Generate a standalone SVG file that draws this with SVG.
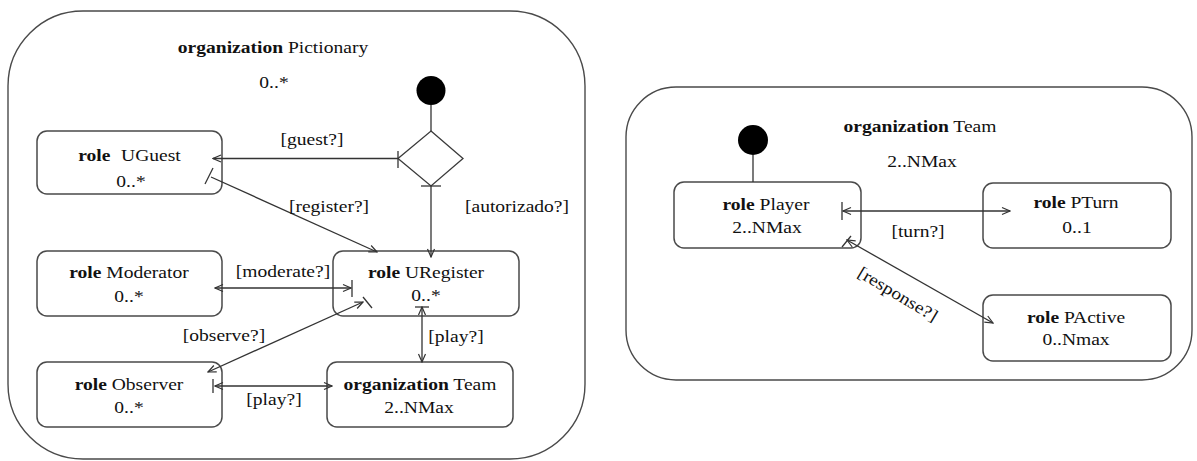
<svg xmlns="http://www.w3.org/2000/svg" width="1197" height="461" viewBox="0 0 1197 461">
<style>
.bg{fill:#ffffff}
.cont{fill:#ffffff;stroke:#4a4a4a;stroke-width:1.4}
.box{fill:#ffffff;stroke:#4a4a4a;stroke-width:1.5}
.init{fill:#000000}
.dia{fill:#ffffff;stroke:#3a3a3a;stroke-width:1.3}
.ln{fill:none;stroke:#333333;stroke-width:1.3}
.tk{fill:none;stroke:#333333;stroke-width:1.3}
.t{font-family:"Liberation Serif","Times New Roman",serif;font-size:17px;fill:#111111;text-anchor:middle}
.b{font-weight:bold}
</style>
<defs>
<marker id="ah" viewBox="0 0 10 10" refX="9" refY="5" markerWidth="10" markerHeight="10" markerUnits="userSpaceOnUse" orient="auto-start-reverse">
<path d="M1,1.5 L9,5 L1,8.5" fill="none" stroke="#333333" stroke-width="1.2"/>
</marker>
</defs>
<rect class="bg" x="0" y="0" width="1197" height="461"/>

<g id="org-pictionary">
<rect class="cont" x="8" y="11" width="577" height="448" rx="75" ry="75"/>
<text class="t" transform="translate(273,53) scale(1.15,1)"><tspan class="b">organization</tspan> Pictionary</text>
<text class="t" transform="translate(274,88) scale(1.15,1)">0..*</text>
</g>

<g id="org-team-detail">
<rect class="cont" x="626" y="87" width="566" height="293" rx="50" ry="50"/>
<text class="t" transform="translate(920,132) scale(1.15,1)"><tspan class="b">organization</tspan> Team</text>
<text class="t" transform="translate(922,167) scale(1.15,1)">2..NMax</text>
</g>

<g id="init-pictionary"><circle class="init" cx="431" cy="90.5" r="14.5"/></g>
<g id="decision"><polygon class="dia" points="431,131 463,158.5 431,186 398,158.5"/></g>

<g id="role-uguest">
<rect class="box" x="37" y="131" width="185" height="63" rx="10" ry="10"/>
<text class="t" transform="translate(129.5,161) scale(1.15,1)"><tspan class="b">role</tspan><tspan dx="5"> UGuest</tspan></text>
<text class="t" transform="translate(131,187) scale(1.15,1)">0..*</text>
</g>

<g id="role-moderator">
<rect class="box" x="37" y="251" width="185" height="65" rx="10" ry="10"/>
<text class="t" transform="translate(129,278) scale(1.15,1)"><tspan class="b">role</tspan> Moderator</text>
<text class="t" transform="translate(129,302) scale(1.15,1)">0..*</text>
</g>

<g id="role-uregister">
<rect class="box" x="333" y="251" width="186" height="65" rx="10" ry="10"/>
<text class="t" transform="translate(426,278) scale(1.15,1)"><tspan class="b">role</tspan> URegister</text>
<text class="t" transform="translate(426,301) scale(1.15,1)">0..*</text>
</g>

<g id="role-observer">
<rect class="box" x="37" y="362" width="185" height="65" rx="10" ry="10"/>
<text class="t" transform="translate(129,390) scale(1.15,1)"><tspan class="b">role</tspan> Observer</text>
<text class="t" transform="translate(129,413) scale(1.15,1)">0..*</text>
</g>

<g id="org-team">
<rect class="box" x="327" y="362" width="186" height="65" rx="10" ry="10"/>
<text class="t" transform="translate(420,390) scale(1.15,1)"><tspan class="b">organization</tspan> Team</text>
<text class="t" transform="translate(419,413) scale(1.15,1)">2..NMax</text>
</g>

<g id="init-team"><circle class="init" cx="753" cy="140" r="15"/></g>

<g id="role-player">
<rect class="box" x="674" y="182" width="187" height="66" rx="10" ry="10"/>
<text class="t" transform="translate(766,210) scale(1.15,1)"><tspan class="b">role</tspan> Player</text>
<text class="t" transform="translate(767,233) scale(1.15,1)">2..NMax</text>
</g>

<g id="role-pturn">
<rect class="box" x="983" y="183" width="188" height="65" rx="10" ry="10"/>
<text class="t" transform="translate(1076,208) scale(1.15,1)"><tspan class="b">role</tspan> PTurn</text>
<text class="t" transform="translate(1077,233) scale(1.15,1)">0..1</text>
</g>

<g id="role-pactive">
<rect class="box" x="983" y="295" width="188" height="66" rx="10" ry="10"/>
<text class="t" transform="translate(1076,323) scale(1.15,1)"><tspan class="b">role</tspan> PActive</text>
<text class="t" transform="translate(1076,345) scale(1.15,1)">0..Nmax</text>
</g>

<g id="connectors">
<line class="ln" x1="431" y1="105" x2="431" y2="131"/>
<line class="ln" x1="398" y1="158.5" x2="213" y2="158.5" marker-end="url(#ah)"/>
<line class="tk" x1="398" y1="151" x2="398" y2="168"/>
<text class="t" transform="translate(312,145) scale(1.15,1)">[guest?]</text>

<line class="ln" x1="431" y1="186" x2="431" y2="257" marker-end="url(#ah)"/>
<line class="tk" x1="421" y1="186" x2="441" y2="186"/>
<text class="t" transform="translate(517,212) scale(1.15,1)">[autorizado?]</text>

<line class="ln" x1="211" y1="177" x2="377" y2="252" marker-end="url(#ah)"/>
<line class="tk" x1="205" y1="184" x2="213" y2="168"/>
<text class="t" transform="translate(329,212) scale(1.15,1)">[register?]</text>

<line class="ln" x1="215" y1="288" x2="351" y2="288" marker-start="url(#ah)" marker-end="url(#ah)"/>
<line class="tk" x1="352" y1="280" x2="352" y2="297"/>
<text class="t" transform="translate(283,277) scale(1.15,1)">[moderate?]</text>

<line class="ln" x1="363" y1="302" x2="208" y2="372" marker-start="url(#ah)" marker-end="url(#ah)"/>
<line class="tk" x1="363" y1="297" x2="372" y2="308"/>
<text class="t" transform="translate(224,341) scale(1.15,1)">[observe?]</text>

<line class="ln" x1="422" y1="307" x2="422" y2="362" marker-start="url(#ah)" marker-end="url(#ah)"/>
<line class="tk" x1="415" y1="307" x2="429" y2="307"/>
<text class="t" transform="translate(456,342) scale(1.15,1)">[play?]</text>

<line class="ln" x1="215" y1="386" x2="332" y2="386" marker-start="url(#ah)" marker-end="url(#ah)"/>
<line class="tk" x1="213" y1="379" x2="213" y2="393"/>
<text class="t" transform="translate(274,405) scale(1.15,1)">[play?]</text>

<line class="ln" x1="753" y1="155" x2="753" y2="182"/>

<line class="ln" x1="843" y1="211" x2="1010" y2="211" marker-start="url(#ah)" marker-end="url(#ah)"/>
<line class="tk" x1="842" y1="202" x2="842" y2="220"/>
<text class="t" transform="translate(918,237) scale(1.15,1)">[turn?]</text>

<line class="ln" x1="847" y1="240" x2="993" y2="323" marker-start="url(#ah)" marker-end="url(#ah)"/>
<line class="tk" x1="842" y1="247" x2="851" y2="236"/>
<text class="t" transform="translate(895,299) rotate(31) scale(1.15,1)">[response?]</text>
</g>
</svg>
